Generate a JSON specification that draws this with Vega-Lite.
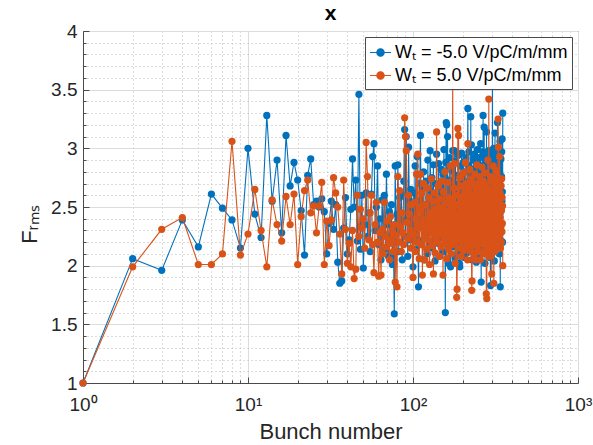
{
"$schema": "https://vega.github.io/schema/vega-lite/v6.json",
"width": 495, "height": 352,
"autosize": {"type": "none"},
"padding": {"left": 83, "top": 31, "right": 15, "bottom": 62},
"background": "white",
"config": {"font": "Liberation Sans", "view": {"stroke": "#4a4a4a", "strokeWidth": 1}},
"title": {"text": "x", "fontSize": 21, "fontWeight": "bold", "color": "#000000", "offset": -2, "anchor": "middle"},
"data": {"values": [
{"n":1,"b":1.0,"o":1.0},{"n":2,"b":2.06,"o":1.99},{"n":3,"b":1.96,"o":2.31},{"n":4,"b":2.39,"o":2.41},{"n":5,"b":2.16,"o":2.01},
{"n":6,"b":2.61,"o":2.01},{"n":7,"b":2.49,"o":2.10},{"n":8,"b":2.39,"o":3.06},{"n":9,"b":2.15,"o":2.09},{"n":10,"b":3.00,"o":2.27},
{"n":11,"b":2.44,"o":2.65},{"n":12,"b":2.24,"o":2.30},{"n":13,"b":3.28,"o":1.99},{"n":14,"b":2.55,"o":2.56},{"n":15,"b":2.90,"o":2.35},
{"n":16,"b":2.28,"o":2.21},{"n":17,"b":3.11,"o":2.59},{"n":18,"b":2.68,"o":2.35},{"n":19,"b":2.88,"o":2.61},{"n":20,"b":2.73,"o":2.01},
{"n":21,"b":2.47,"o":2.42},{"n":22,"b":2.09,"o":2.64},{"n":23,"b":2.77,"o":2.73},{"n":24,"b":2.91,"o":2.45},{"n":25,"b":2.52,"o":2.51},
{"n":26,"b":2.55,"o":2.28},{"n":27,"b":2.50,"o":2.51},{"n":28,"b":2.57,"o":2.71},{"n":29,"b":2.46,"o":2.01},{"n":30,"b":2.10,"o":2.38},
{"n":31,"b":2.36,"o":2.17},{"n":32,"b":2.55,"o":2.39},{"n":33,"b":2.31,"o":2.75},{"n":34,"b":2.52,"o":2.62},{"n":35,"b":2.03,"o":2.50},
{"n":36,"b":1.85,"o":2.27},{"n":37,"b":1.87,"o":1.93},{"n":38,"b":2.32,"o":2.73},{"n":39,"b":2.58,"o":2.31},{"n":40,"b":2.10,"o":2.02},
{"n":41,"b":2.22,"o":2.19},{"n":42,"b":2.48,"o":1.99},{"n":43,"b":2.91,"o":2.30},{"n":44,"b":2.50,"o":1.89},{"n":45,"b":2.73,"o":1.97},
{"n":46,"b":2.21,"o":2.60},{"n":47,"b":3.46,"o":2.25},{"n":48,"b":2.14,"o":2.48},{"n":49,"b":2.60,"o":2.32},{"n":50,"b":1.98,"o":2.40},
{"n":51,"b":2.35,"o":2.15},{"n":52,"b":2.62,"o":3.05},{"n":53,"b":2.25,"o":2.76},{"n":54,"b":2.45,"o":2.22},{"n":55,"b":2.12,"o":2.45},
{"n":56,"b":2.61,"o":2.60},{"n":57,"b":2.93,"o":2.18},{"n":58,"b":3.04,"o":1.94},{"n":59,"b":2.30,"o":2.35},{"n":60,"b":2.50,"o":2.54},
{"n":61,"b":2.85,"o":2.20},{"n":62,"b":2.18,"o":1.91},{"n":63,"b":2.40,"o":2.28},{"n":64,"b":2.05,"o":1.92},{"n":65,"b":2.56,"o":2.31},
{"n":66,"b":2.28,"o":2.10},{"n":67,"b":2.60,"o":2.54},{"n":68,"b":2.14,"o":2.25},{"n":69,"b":2.78,"o":2.16},{"n":70,"b":2.35,"o":2.38},
{"n":71,"b":2.08,"o":2.22},{"n":72,"b":2.46,"o":2.05},{"n":73,"b":2.25,"o":2.42},{"n":74,"b":2.52,"o":2.19},{"n":75,"b":2.01,"o":2.30},
{"n":76,"b":2.32,"o":2.12},{"n":77,"b":1.59,"o":2.35},{"n":78,"b":2.85,"o":1.86},{"n":79,"b":2.20,"o":2.26},{"n":80,"b":2.44,"o":1.82},
{"n":81,"b":2.86,"o":2.76},{"n":82,"b":2.12,"o":2.20},{"n":83,"b":2.58,"o":2.64},{"n":84,"b":2.30,"o":2.33},{"n":85,"b":2.61,"o":2.12},
{"n":86,"b":2.05,"o":2.45},{"n":87,"b":2.38,"o":2.28},{"n":88,"b":2.72,"o":2.18},{"n":89,"b":3.16,"o":3.26},{"n":90,"b":2.25,"o":3.10},
{"n":91,"b":3.10,"o":2.98},{"n":92,"b":2.40,"o":2.37},{"n":93,"b":2.08,"o":2.23},{"n":94,"b":3.01,"o":2.60},{"n":95,"b":2.56,"o":2.44},
{"n":96,"b":2.22,"o":2.30},{"n":97,"b":2.65,"o":2.15},{"n":98,"b":2.35,"o":2.52},{"n":99,"b":2.48,"o":2.26},{"n":100,"b":1.99,"o":1.90},
{"n":101,"b":2.62,"o":2.26},{"n":102,"b":2.30,"o":2.54},{"n":103,"b":2.85,"o":2.12},{"n":104,"b":2.14,"o":2.40},{"n":105,"b":2.48,"o":2.78},
{"n":106,"b":2.93,"o":2.20},{"n":107,"b":2.22,"o":2.95},{"n":108,"b":1.82,"o":2.32},{"n":109,"b":2.55,"o":2.06},{"n":110,"b":2.70,"o":2.48},
{"n":111,"b":3.11,"o":2.78},{"n":112,"b":2.40,"o":2.18},{"n":113,"b":2.18,"o":2.62},{"n":114,"b":2.66,"o":1.92},{"n":115,"b":2.35,"o":2.35},
{"n":116,"b":2.80,"o":2.70},{"n":117,"b":2.05,"o":2.24},{"n":118,"b":2.52,"o":2.05},{"n":119,"b":2.28,"o":2.52},{"n":120,"b":2.72,"o":2.30},
{"n":121,"b":2.45,"o":2.14},{"n":122,"b":2.10,"o":2.66},{"n":123,"b":2.90,"o":2.40},{"n":124,"b":2.33,"o":2.22},{"n":125,"b":2.58,"o":2.58},
{"n":126,"b":2.20,"o":2.01},{"n":127,"b":2.98,"o":2.45},{"n":128,"b":2.64,"o":2.28},{"n":129,"b":2.38,"o":2.74},{"n":130,"b":2.75,"o":2.17},
{"n":131,"b":2.15,"o":2.36},{"n":132,"b":2.50,"o":2.55},{"n":133,"b":2.86,"o":1.93},{"n":134,"b":2.27,"o":2.30},{"n":135,"b":2.61,"o":2.62},
{"n":136,"b":2.04,"o":2.11},{"n":137,"b":2.70,"o":2.48},{"n":138,"b":2.42,"o":2.25},{"n":139,"b":2.95,"o":3.14},{"n":140,"b":2.31,"o":2.38},
{"n":141,"b":2.56,"o":2.20},{"n":142,"b":2.19,"o":2.68},{"n":143,"b":2.87,"o":2.34},{"n":144,"b":2.46,"o":2.08},{"n":145,"b":2.08,"o":2.57},
{"n":146,"b":2.68,"o":2.27},{"n":147,"b":2.36,"o":2.44},{"n":148,"b":2.82,"o":2.16},{"n":149,"b":2.24,"o":2.72},{"n":150,"b":2.60,"o":2.31},
{"n":151,"b":2.12,"o":2.50},{"n":152,"b":2.78,"o":1.92},{"n":153,"b":2.40,"o":2.63},{"n":154,"b":2.99,"o":2.24},{"n":155,"b":2.25,"o":2.40},
{"n":156,"b":2.54,"o":2.80},{"n":157,"b":1.60,"o":2.19},{"n":158,"b":2.88,"o":2.53},{"n":159,"b":3.22,"o":2.33},{"n":160,"b":3.20,"o":2.06},
{"n":161,"b":2.34,"o":2.46},{"n":162,"b":3.10,"o":2.28},{"n":163,"b":2.47,"o":2.71},{"n":164,"b":2.02,"o":2.14},{"n":165,"b":2.73,"o":2.58},
{"n":166,"b":2.29,"o":2.37},{"n":167,"b":2.92,"o":2.22},{"n":168,"b":2.50,"o":2.85},{"n":169,"b":1.99,"o":2.43},{"n":170,"b":2.66,"o":2.10},
{"n":171,"b":2.38,"o":2.55},{"n":172,"b":2.81,"o":2.30},{"n":173,"b":2.16,"o":2.18},{"n":174,"b":2.98,"o":3.62},{"n":175,"b":2.55,"o":2.48},
{"n":176,"b":2.27,"o":2.25},{"n":177,"b":2.70,"o":2.66},{"n":178,"b":2.98,"o":2.87},{"n":179,"b":2.43,"o":2.35},{"n":180,"b":2.06,"o":2.02},
{"n":181,"b":2.89,"o":2.60},{"n":182,"b":2.32,"o":2.21},{"n":183,"b":2.62,"o":2.44},{"n":184,"b":2.20,"o":1.73},{"n":185,"b":2.77,"o":1.80},
{"n":186,"b":2.48,"o":2.52},{"n":187,"b":2.10,"o":3.17},{"n":188,"b":2.94,"o":2.29},{"n":189,"b":2.36,"o":3.11},{"n":190,"b":2.58,"o":2.38},
{"n":191,"b":2.02,"o":2.15},{"n":192,"b":1.99,"o":2.75},{"n":193,"b":2.85,"o":2.47},{"n":194,"b":2.41,"o":2.26},{"n":195,"b":2.68,"o":2.58},
{"n":196,"b":2.22,"o":2.08},{"n":197,"b":2.96,"o":2.41},{"n":198,"b":2.53,"o":2.68},{"n":199,"b":2.14,"o":2.20},{"n":200,"b":2.74,"o":2.54},
{"n":201,"b":2.39,"o":2.32},{"n":202,"b":2.88,"o":2.79},{"n":203,"b":2.26,"o":2.13},{"n":204,"b":2.63,"o":2.45},{"n":205,"b":2.07,"o":2.62},
{"n":206,"b":2.80,"o":2.24},{"n":207,"b":2.45,"o":2.36},{"n":208,"b":2.18,"o":2.88},{"n":209,"b":2.92,"o":2.18},{"n":210,"b":2.57,"o":2.50},
{"n":211,"b":2.30,"o":2.70},{"n":212,"b":2.71,"o":2.27},{"n":213,"b":2.11,"o":2.43},{"n":214,"b":2.86,"o":2.05},{"n":215,"b":3.34,"o":3.04},
{"n":216,"b":2.49,"o":2.57},{"n":217,"b":2.24,"o":2.34},{"n":218,"b":2.97,"o":2.21},{"n":219,"b":2.37,"o":2.65},{"n":220,"b":2.66,"o":2.40},
{"n":221,"b":2.15,"o":2.82},{"n":222,"b":2.83,"o":2.16},{"n":223,"b":2.52,"o":2.52},{"n":224,"b":3.27,"o":2.30},{"n":225,"b":2.28,"o":2.74},
{"n":226,"b":3.03,"o":2.12},{"n":227,"b":2.44,"o":1.79},{"n":228,"b":2.05,"o":1.87},{"n":229,"b":2.76,"o":2.46},{"n":230,"b":2.60,"o":2.60},
{"n":231,"b":2.33,"o":2.25},{"n":232,"b":2.90,"o":2.38},{"n":233,"b":2.19,"o":2.69},{"n":234,"b":2.69,"o":2.09},{"n":235,"b":2.47,"o":2.55},
{"n":236,"b":2.95,"o":2.33},{"n":237,"b":2.12,"o":2.78},{"n":238,"b":2.58,"o":2.20},{"n":239,"b":2.82,"o":2.48},{"n":240,"b":2.26,"o":2.05},
{"n":241,"b":2.64,"o":2.64},{"n":242,"b":2.03,"o":2.28},{"n":243,"b":2.78,"o":2.41},{"n":244,"b":2.40,"o":2.86},{"n":245,"b":2.99,"o":2.17},
{"n":246,"b":2.21,"o":2.53},{"n":247,"b":2.55,"o":2.35},{"n":248,"b":2.87,"o":2.70},{"n":249,"b":2.34,"o":2.23},{"n":250,"b":2.73,"o":2.47},
{"n":251,"b":2.09,"o":2.12},{"n":252,"b":2.62,"o":2.60},{"n":253,"b":2.92,"o":2.38},{"n":254,"b":2.29,"o":2.76},{"n":255,"b":2.78,"o":2.27},
{"n":256,"b":2.46,"o":2.05},{"n":257,"b":3.04,"o":2.50},{"n":258,"b":2.17,"o":2.31},{"n":259,"b":1.86,"o":2.66},{"n":260,"b":2.68,"o":2.19},
{"n":261,"b":2.51,"o":2.44},{"n":262,"b":2.85,"o":2.84},{"n":263,"b":2.23,"o":2.25},{"n":264,"b":2.97,"o":2.57},{"n":265,"b":2.40,"o":2.36},
{"n":266,"b":3.28,"o":2.10},{"n":267,"b":2.59,"o":2.72},{"n":268,"b":2.13,"o":2.29},{"n":269,"b":2.80,"o":2.48},{"n":270,"b":3.18,"o":2.62},
{"n":271,"b":2.36,"o":2.21},{"n":272,"b":2.71,"o":2.40},{"n":273,"b":2.02,"o":2.79},{"n":274,"b":2.94,"o":2.15},{"n":275,"b":2.48,"o":2.55},
{"n":276,"b":2.25,"o":2.33},{"n":277,"b":2.83,"o":2.68},{"n":278,"b":2.57,"o":1.76},{"n":279,"b":3.14,"o":2.46},{"n":280,"b":2.31,"o":1.72},
{"n":281,"b":2.66,"o":2.58},{"n":282,"b":2.10,"o":2.24},{"n":283,"b":2.90,"o":2.38},{"n":284,"b":2.44,"o":2.90},{"n":285,"b":2.75,"o":2.13},
{"n":286,"b":2.19,"o":2.50},{"n":287,"b":2.98,"o":2.30},{"n":288,"b":2.53,"o":3.42},{"n":289,"b":2.35,"o":2.42},{"n":290,"b":2.84,"o":2.18},
{"n":291,"b":2.62,"o":2.65},{"n":292,"b":2.27,"o":2.35},{"n":293,"b":2.96,"o":2.08},{"n":294,"b":2.07,"o":2.53},{"n":295,"b":1.83,"o":2.27},
{"n":296,"b":2.72,"o":2.76},{"n":297,"b":2.45,"o":2.44},{"n":298,"b":2.88,"o":2.20},{"n":299,"b":2.20,"o":2.61},{"n":300,"b":2.60,"o":1.93},
{"n":301,"b":2.92,"o":2.39},{"n":302,"b":2.38,"o":2.72},{"n":303,"b":3.72,"o":2.16},{"n":304,"b":2.55,"o":2.52},{"n":305,"b":2.16,"o":2.31},
{"n":306,"b":2.81,"o":2.85},{"n":307,"b":2.43,"o":2.24},{"n":308,"b":3.00,"o":2.47},{"n":309,"b":2.29,"o":1.85},{"n":310,"b":2.69,"o":2.63},
{"n":311,"b":2.04,"o":2.28},{"n":312,"b":2.87,"o":2.55},{"n":313,"b":2.50,"o":2.12},{"n":314,"b":3.13,"o":2.70},{"n":315,"b":2.22,"o":2.37},
{"n":316,"b":2.77,"o":2.20},{"n":317,"b":2.36,"o":2.59},{"n":318,"b":2.95,"o":2.43},{"n":319,"b":2.12,"o":2.81},{"n":320,"b":2.64,"o":2.26},
{"n":321,"b":2.47,"o":2.50},{"n":322,"b":2.85,"o":2.14},{"n":323,"b":2.31,"o":2.66},{"n":324,"b":2.73,"o":2.34},{"n":325,"b":3.22,"o":2.76},
{"n":326,"b":2.18,"o":2.22},{"n":327,"b":2.58,"o":2.45},{"n":328,"b":2.96,"o":3.25},{"n":329,"b":2.40,"o":3.01},{"n":330,"b":2.67,"o":2.30},
{"n":331,"b":2.26,"o":2.56},{"n":332,"b":2.89,"o":2.19},{"n":333,"b":2.53,"o":2.72},{"n":334,"b":2.10,"o":2.38},{"n":335,"b":2.79,"o":2.93},
{"n":336,"b":2.44,"o":2.27},{"n":337,"b":3.06,"o":2.62},{"n":338,"b":1.82,"o":2.41},{"n":339,"b":2.62,"o":2.15},{"n":340,"b":2.35,"o":2.52},
{"n":341,"b":2.91,"o":2.33},{"n":342,"b":2.48,"o":2.68},{"n":343,"b":2.21,"o":2.20},{"n":344,"b":2.76,"o":2.47},{"n":345,"b":2.97,"o":2.74},
{"n":346,"b":2.55,"o":2.29},{"n":347,"b":3.08,"o":2.58},{"n":348,"b":2.63,"o":2.36},{"n":349,"b":2.20,"o":2.51},{"n":350,"b":3.30,"o":2.00}
]},
"transform": [{"fold": ["b", "o"], "as": ["s", "f"]}],
"layer": [
{
"transform": [{"filter": "datum.s === 'b'"}],
"mark": {"type": "line", "strokeWidth": 1.1, "point": {"filled": true, "size": 52, "opacity": 1}},
"encoding": {
"x": {"field": "n", "type": "quantitative", "scale": {"type": "log", "domain": [1, 1000], "nice": false},
"axis": {"orient": "bottom", "values": [2,3,4,5,6,7,8,9,20,30,40,50,60,70,80,90,200,300,400,500,600,700,800,900], "grid": true, "gridDash": [1, 3], "gridColor": "#b8b8b8", "gridOpacity": 1, "labels": false, "domain": false, "ticks": true, "tickSize": -3, "tickColor": "#4a4a4a", "title": null}},
"y": {"field": "f", "type": "quantitative", "scale": {"domain": [1, 4], "nice": false, "zero": false},
"axis": {"orient": "left", "values": [1.1,1.2,1.3,1.4,1.6,1.7,1.8,1.9,2.1,2.2,2.3,2.4,2.6,2.7,2.8,2.9,3.1,3.2,3.3,3.4,3.6,3.7,3.8,3.9], "grid": true, "gridDash": [1, 3], "gridColor": "#b8b8b8", "gridOpacity": 1, "labels": false, "domain": false, "ticks": true, "tickSize": -3, "tickColor": "#4a4a4a", "title": null}},
"color": {"field": "s", "type": "nominal", "scale": {"domain": ["b", "o"], "range": ["#0072BD", "#D95319"]},
"legend": {"orient": "top-right", "offset": 6, "title": null, "fillColor": "white", "strokeColor": "#4a4a4a", "padding": 4, "labelFont": "Liberation Sans", "labelFontSize": 18, "labelColor": "#000000", "labelOffset": 3, "labelLimit": 0, "rowPadding": 2,
"symbolType": "M-1,0L-0.35,0M0.35,0L1,0M-0.35,0A0.35,0.35,0,1,0,0.35,0A0.35,0.35,0,1,0,-0.35,0Z", "symbolSize": 441, "symbolStrokeWidth": 1.2,
"labelExpr": "datum.value === 'b' ? 'Wₜ = -5.0 V/pC/m/mm' : 'Wₜ = 5.0 V/pC/m/mm'",
"encode": {"symbols": {"update": {"fill": {"scale": "color", "field": "value"}, "stroke": {"scale": "color", "field": "value"}, "opacity": {"value": 1}}}}}}
}
},
{
"transform": [{"filter": "datum.s === 'o'"}],
"mark": {"type": "line", "strokeWidth": 1.1, "point": {"filled": true, "size": 52, "opacity": 1}},
"encoding": {
"x": {"field": "n", "type": "quantitative",
"axis": {"orient": "bottom", "values": [1, 10, 100, 1000], "labelFlush": false, "labelExpr": "datum.value == 1 ? '10⁰' : datum.value == 10 ? '10¹' : datum.value == 100 ? '10²' : '10³'", "grid": true, "gridColor": "#dcdcdc", "gridOpacity": 1, "domainColor": "#4a4a4a", "tickColor": "#4a4a4a", "tickSize": -6, "labelFontSize": 19, "labelColor": "#262626", "labelPadding": 18, "title": "Bunch number", "titleFontSize": 22, "titleFontWeight": "normal", "titleColor": "#262626", "titlePadding": 7}},
"y": {"field": "f", "type": "quantitative",
"axis": {"orient": "left", "values": [1, 1.5, 2, 2.5, 3, 3.5, 4], "format": "~g", "labelFlush": false, "grid": true, "gridColor": "#dcdcdc", "gridOpacity": 1, "domainColor": "#4a4a4a", "tickColor": "#4a4a4a", "tickSize": -6, "labelFontSize": 19, "labelColor": "#262626", "labelPadding": 12, "title": "Fᵣₘₛ", "titleFontSize": 22, "titleFontWeight": "normal", "titleColor": "#262626", "titlePadding": 9, "titleY": 193}},
"color": {"field": "s", "type": "nominal"}
}
}
],
"resolve": {"axis": {"x": "independent", "y": "independent"}}
}
